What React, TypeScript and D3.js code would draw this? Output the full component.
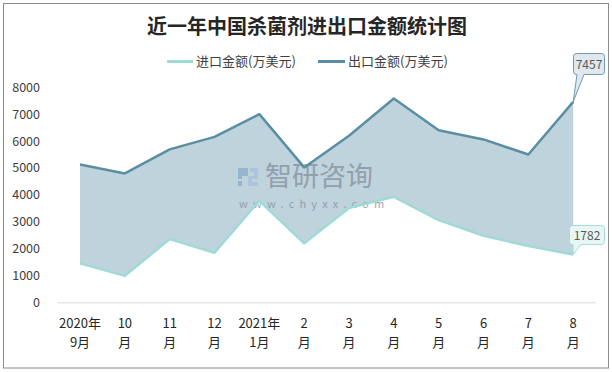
import { area, line, scaleLinear, scalePoint } from 'd3'

const months = [
  ['2020年', '9月'],
  ['10', '月'],
  ['11', '月'],
  ['12', '月'],
  ['2021年', '1月'],
  ['2', '月'],
  ['3', '月'],
  ['4', '月'],
  ['5', '月'],
  ['6', '月'],
  ['7', '月'],
  ['8', '月'],
]
const importValues = [1450, 990, 2350, 1845, 3777, 2193, 3510, 3926, 3060, 2476, 2093, 1782]
const exportValues = [5130, 4795, 5690, 6157, 7000, 5019, 6200, 7584, 6405, 6060, 5500, 7457]
const yTicks = [0, 1000, 2000, 3000, 4000, 5000, 6000, 7000, 8000]

const title = '近一年中国杀菌剂进出口金额统计图'
const importName = '进口金额(万美元)'
const exportName = '出口金额(万美元)'

const width = 612
const height = 372
const plot = { left: 57.6, right: 595.6, top: 87.3, bottom: 302.3 }

const importColor = '#9fdad6'
const exportColor = '#5a8fa3'
const fillColor = '#bfd3dc'
const font = '"Noto Sans CJK SC", "Noto Sans", sans-serif'

// rounded box with a pointer down to (tx, ty)
function callout(x0: number, y0: number, x1: number, y1: number, pa: number, pb: number, tx: number, ty: number) {
  const r = 3
  return `M${x0 + r},${y0} H${x1 - r} Q${x1},${y0} ${x1},${y0 + r} V${y1 - r} Q${x1},${y1} ${x1 - r},${y1} H${pb} L${tx},${ty} L${pa},${y1} H${x0 + r} Q${x0},${y1} ${x0},${y1 - r} V${y0 + r} Q${x0},${y0} ${x0 + r},${y0} Z`
}

export default function App() {
  const x = scalePoint<number>()
    .domain(months.map((_, i) => i))
    .range([plot.left, plot.right])
    .padding(0.5)
  const y = scaleLinear().domain([0, 8000]).range([plot.bottom, plot.top])

  const band = area<number>()
    .x((_, i) => x(i) ?? 0)
    .y0((d) => y(d))
    .y1((_, i) => y(exportValues[i]))
  const lineGen = line<number>()
    .x((_, i) => x(i) ?? 0)
    .y((d) => y(d))

  const last = months.length - 1
  const lx = x(last) ?? 0
  const expY = y(exportValues[last])
  const impY = y(importValues[last])

  return (
    <svg
      width={width}
      height={height}
      style={{ position: 'absolute', left: 0, top: 0, background: '#fff' }}
      fontFamily={font}
    >
      <rect x={3.5} y={3.5} width={605} height={364.5} fill="#fff" stroke="#8a8a8a" />

      <text x={307} y={34} textAnchor="middle" fontSize={20} fontWeight="bold" fill="#262626">
        {title}
      </text>

      <g fontSize={13} fill="#404040">
        <line x1={167} x2={193} y1={61.5} y2={61.5} stroke={importColor} strokeWidth={3} />
        <text x={196} y={66}>{importName}</text>
        <line x1={318} x2={345} y1={61.5} y2={61.5} stroke={exportColor} strokeWidth={3} />
        <text x={348} y={66}>{exportName}</text>
      </g>

      <g fontSize={12.5} fill="#404040" textAnchor="end">
        {yTicks.map((t) => (
          <text key={t} x={40} y={y(t) + 4.5}>
            {t}
          </text>
        ))}
      </g>

      <line x1={plot.left} x2={plot.right} y1={plot.bottom + 0.5} y2={plot.bottom + 0.5} stroke="#d9d9d9" />

      <path d={band(importValues) ?? ''} fill={fillColor} />

      {/* watermark */}
      <g opacity={0.85}>
        <path d="M238,168 h10 v8 h-6 v3 h-4 z M238,181 h4 v5 h-4 z" fill="#8fb0cf" />
        <path d="M250,168 h8 v11 h-6 v3 h6 v4 h-10 v-10 h6 v-4 h-4 z" fill="#a9c3da" />
        <text x={265} y={186} fontSize={27} fill="#8a98a3">智研咨询</text>
        <text x={239} y={208} fontSize={11} fill="#8a98a3" letterSpacing={5.2}>www.chyxx.com</text>
      </g>

      <path d={lineGen(importValues) ?? ''} fill="none" stroke={importColor} strokeWidth={2.5} strokeLinejoin="round" />
      <path d={lineGen(exportValues) ?? ''} fill="none" stroke={exportColor} strokeWidth={2.5} strokeLinejoin="round" />

      <path d={callout(573.5, 53.5, 604.5, 74.5, 577, 584, lx, expY)} fill="#dfe8ee" stroke="#6f9cb0" />
      <text x={589} y={68.5} textAnchor="middle" fontSize={12} fill="#595959">
        {exportValues[last]}
      </text>
      <path d={callout(569.5, 225.5, 604.5, 244.5, 573, 581, lx, impY)} fill="#e8f6f6" stroke="#a6ddd9" />
      <text x={587} y={239.5} textAnchor="middle" fontSize={12} fill="#595959">
        {importValues[last]}
      </text>

      <g fontSize={13} fill="#262626" textAnchor="middle">
        {months.map((m, i) => (
          <g key={i}>
            <text x={x(i)} y={328}>{m[0]}</text>
            <text x={x(i)} y={347}>{m[1]}</text>
          </g>
        ))}
      </g>
    </svg>
  )
}
